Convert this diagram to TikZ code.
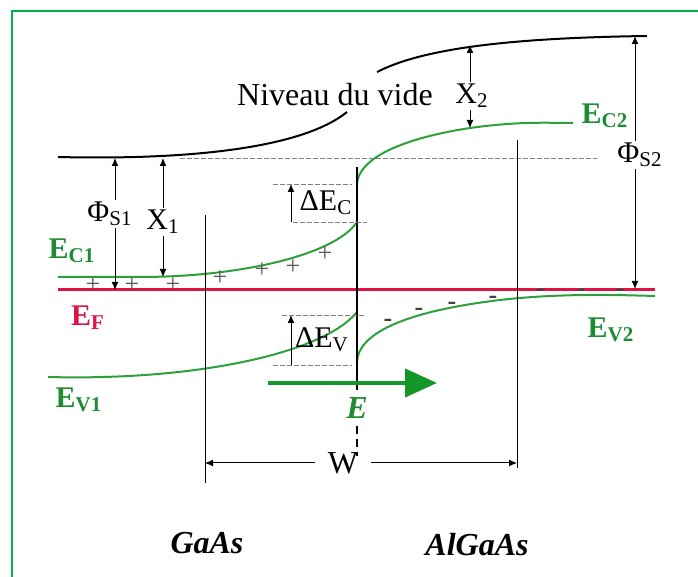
\documentclass[tikz,border=0pt]{standalone}
\usepackage{fontspec}
\setmainfont{Liberation Serif}
\definecolor{bandgreen}{RGB}{45,160,60}
\definecolor{labelgreen}{RGB}{30,140,50}
\definecolor{fieldgreen}{RGB}{20,150,40}
\definecolor{fermired}{RGB}{220,20,70}
\definecolor{framegreen}{RGB}{0,176,80}
\usetikzlibrary{arrows.meta,positioning,calc}

\begin{document}
\begin{tikzpicture}[x=0.5pt,y=-0.5pt,
    lbl/.style={font=\fontsize{15}{17}\selectfont,inner sep=1pt},
    bandlbl/.style={font=\fontsize{15}{17}\selectfont\bfseries,inner sep=0pt},
    dim/.style={line width=0.5pt,-{Latex[length=4pt,width=3.5pt]}},
    gap/.style={gray,line width=0.4pt,dash pattern=on 2.5pt off 1pt},
    band/.style={bandgreen,line width=1pt},
    charge/.style={gray!70!black,font=\fontsize{13}{13}\selectfont,inner sep=0pt}]
    \useasboundingbox (0,0) rectangle (698,577);

    % frame
    \draw[framegreen,line width=1pt] (12,577) -- (12,11) -- (698,11);

    % vacuum level
    \draw[line width=1pt] (58,157) .. controls (180,160) and (300,150) .. (347,112);
    \draw[line width=1pt] (377,72) .. controls (420,50) and (500,38) .. (647,36);
    \draw[gap] (180,158) -- (597,158);
    \node[lbl,font=\fontsize{16}{18}\selectfont] (vide) at (335,95) {Niveau du vide};

    % Fermi level
    \draw[fermired,line width=1.5pt] (58,290) -- (655,290);

    % conduction and valence bands
    \draw[band] (58,277) -- (140,277) .. controls (240,277) and (335,255) .. (357,222);
    \draw[band] (357,184) .. controls (358,162) and (392,140) .. (470,128)
        .. controls (520,121) and (550,123) .. (573,123);
    \draw[band] (48,377) .. controls (200,381) and (325,352) .. (357,312);
    \draw[band] (357,362) .. controls (358,335) and (400,312) .. (500,300)
        .. controls (560,293) and (620,295) .. (655,296);

    % interface and depletion edges
    \draw[line width=1.4pt] (357,167) -- (357,390);
    \draw[line width=0.5pt] (205,215) -- (205,483);
    \draw[line width=0.5pt] (517,140) -- (517,468);

    % band labels
    \node[bandlbl,labelgreen] (ec1) at (72,251) {E\textsubscript{C1}};
    \node[bandlbl,fermired] (ef) at (88,318) {E\textsubscript{F}};
    \node[bandlbl,labelgreen] (ev1) at (79,400) {E\textsubscript{V1}};
    \node[bandlbl,labelgreen] (ec2) at (605,116) {E\textsubscript{C2}};
    \node[bandlbl,labelgreen] (ev2) at (611,330) {E\textsubscript{V2}};

    % work functions and affinities
    \coordinate (s1top) at (115,158);
    \coordinate (s1bot) at (115,290);
    \node[lbl] (phiS1) at (110,214) {Φ\textsubscript{S1}};
    \draw[dim] (phiS1.north -| s1top) -- (s1top);
    \draw[dim] (phiS1.south -| s1top) -- (s1bot);

    \coordinate (x1top) at (163,158);
    \coordinate (x1bot) at (163,277);
    \node[lbl] (chi1) at (163,222) {X\textsubscript{1}};
    \draw[dim] (chi1.north -| x1top) -- (x1top);
    \draw[dim] (chi1.south -| x1top) -- (x1bot);

    \coordinate (x2top) at (470,45);
    \coordinate (x2bot) at (470,128);
    \node[lbl] (chi2) at (472,96) {X\textsubscript{2}};
    \draw[dim] (chi2.north -| x2top) -- (x2top);
    \draw[dim] (chi2.south -| x2top) -- (x2bot);

    \coordinate (s2top) at (635,36);
    \coordinate (s2bot) at (635,289);
    \node[lbl] (phiS2) at (640,155) {Φ\textsubscript{S2}};
    \draw[dim] (phiS2.north -| s2top) -- (s2top);
    \draw[dim] (phiS2.south -| s2top) -- (s2bot);

    % band offsets
    \draw[gap] (273,184) -- (352,184);
    \draw[gap] (293,222) -- (367,222);
    \draw[dim,{Latex[length=4pt,width=3.5pt]}-] (291,184) -- (291,222);
    \node[lbl] (dEc) at (326,203) {ΔE\textsubscript{C}};
    \draw[gap] (282,315) -- (365,315);
    \draw[gap] (273,365) -- (352,365);
    \draw[dim,{Latex[length=4pt,width=3.5pt]}-] (291,315) -- (291,365);
    \node[lbl] (dEv) at (322,340) {ΔE\textsubscript{V}};

    % space charges
    \foreach \x/\y in {93/285,132/285,173/285,220/278,262/270,293/267,325/254}
        \node[charge] at (\x,\y) {+};
    \foreach \x/\y in {388/323,419/312,452/306,493/300,540/293,581/293,620/293}
        \node[charge,black!75,font=\bfseries\fontsize{13}{13}\selectfont] at (\x,\y) {-};

    % electric field
    \draw[fieldgreen,line width=2pt,-{Triangle[length=16pt,width=14pt]}] (268,383) -- (437,383);
    \node[labelgreen,font=\fontsize{16}{18}\selectfont\bfseries\itshape] (field) at (357,408) {E};
    \draw[line width=1pt,dash pattern=on 4pt off 2.5pt] (field.south) -- ++(0,30);

    % depletion width
    \coordinate (wL) at (205,463);
    \coordinate (wR) at (517,463);
    \node[lbl,font=\fontsize{16}{18}\selectfont,inner sep=6pt] (w) at (343,463) {W};
    \draw[dim] (w) -- (wL);
    \draw[dim] (w) -- (wR);

    % materials
    \node[font=\fontsize{16}{18}\selectfont\bfseries\itshape] (gaas) at (207,543) {GaAs};
    \node[font=\fontsize{16}{18}\selectfont\bfseries\itshape] (algaas) at (477,545) {AlGaAs};
\end{tikzpicture}
\end{document}
